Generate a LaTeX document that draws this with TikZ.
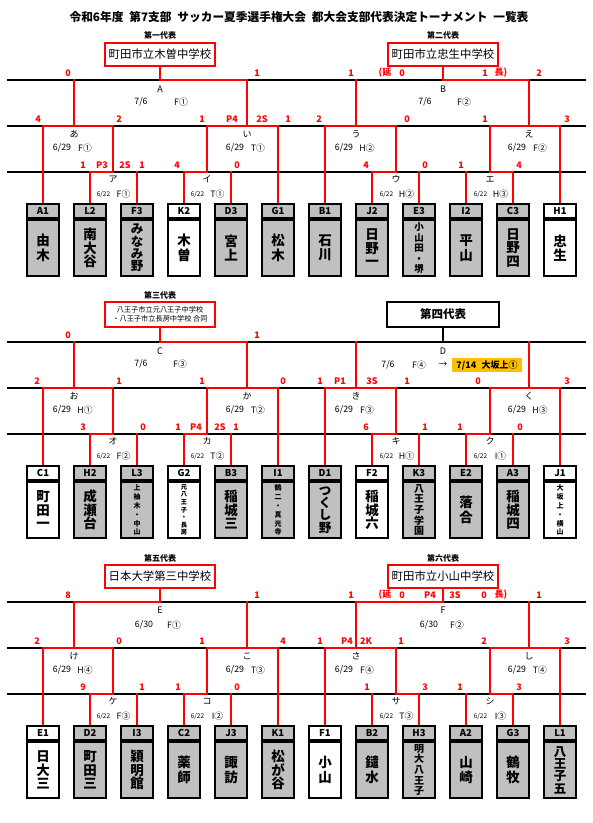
\documentclass[tikz,border=0pt]{standalone}
\usepackage{fontspec}
\setmainfont{Noto Sans CJK JP}
\usetikzlibrary{positioning}

\definecolor{winred}{HTML}{FF0000}
\definecolor{boxgray}{HTML}{C0C0C0}
\definecolor{dayorange}{HTML}{FFC000}

\tikzset{
  bline/.style={draw=black, line width=1.2pt},
  win/.style={draw=winred, line width=2.8pt, line cap=rect},
  score/.style={text=winred, inner sep=0pt, font=\fontsize{9}{10}\selectfont\bfseries},
  mlabel/.style={inner sep=0pt, font=\fontsize{9}{10}\selectfont},
  date/.style={inner sep=0pt, font=\fontsize{8.8}{10}\selectfont},
  sdate/.style={inner sep=0pt, font=\fontsize{6.5}{7}\selectfont},
  replabel/.style={inner sep=0pt, font=\fontsize{8}{9}\selectfont\bfseries},
  repbox/.style={draw=winred, line width=2.6pt, fill=white, minimum width=110pt,
    minimum height=23pt, inner sep=0pt, font=\fontsize{11.4}{12}\selectfont},
  code/.style={draw, line width=2pt, minimum width=32pt, minimum height=14pt,
    inner sep=0pt, anchor=north, font=\fontsize{9.5}{10}\selectfont\bfseries},
  tname/.style={draw, line width=2pt, minimum width=32pt, minimum height=56pt,
    inner sep=0pt, anchor=north, align=center},
}

\begin{document}
\begin{tikzpicture}[x=1pt, y=-1pt]
\useasboundingbox (0,0) rectangle (593,823);

% 表題
\node[font=\fontsize{11.7}{12}\selectfont\bfseries] (title) at (299,17)
  {令和6年度\hspace{0.5em}第7支部\hspace{0.5em}サッカー夏季選手権大会\hspace{0.5em}都大会支部代表決定トーナメント\hspace{0.5em}一覧表};

% 罫線と接続点
\foreach \s/\sh in {s1/0, s2/262, s3/522} {
  \begin{scope}[yshift=-\sh pt]
    \foreach \y in {80,126,172}
      \draw[bline] (7,\y) -- (586,\y);
    \foreach \k in {0,...,11}
      \coordinate (\s p\k) at ({43+47*\k},203);
    \coordinate (\s m2a) at (113,172);
    \coordinate (\s m2b) at (207,172);
    \coordinate (\s m2c) at (396,172);
    \coordinate (\s m2d) at (490,172);
    \coordinate (\s m1a) at (74,126);
    \coordinate (\s m1b) at (247,126);
    \coordinate (\s m1c) at (356,126);
    \coordinate (\s m1d) at (529,126);
    \coordinate (\s m0a) at (160,80);
    \coordinate (\s m0b) at (443,80);
  \end{scope}
}

% 勝ち上がり
\foreach \s/\wa/\la/\wb/\lb/\wc/\lc/\wd/\ld in
    {s1/1/2/3/4/7/8/10/9, s2/1/2/3/4/7/8/9/10, s3/1/2/3/4/8/7/10/9} {
  \draw[win] (\s p\wa) |- (\s m2a);
  \draw[win] (\s p\la) -- (\s p\la |- \s m2a);
  \draw[win] (\s p\wb) |- (\s m2b);
  \draw[win] (\s p\lb) -- (\s p\lb |- \s m2b);
  \draw[win] (\s p\wc) |- (\s m2c);
  \draw[win] (\s p\lc) -- (\s p\lc |- \s m2c);
  \draw[win] (\s p\wd) |- (\s m2d);
  \draw[win] (\s p\ld) -- (\s p\ld |- \s m2d);
  \draw[win] (\s p0) |- (\s m1a) -| (\s m2a);
  \draw[win] (\s m2b) |- (\s m1b) -| (\s p5);
  \draw[win] (\s p6) |- (\s m1c) -| (\s m2c);
  \draw[win] (\s m2d) |- (\s m1d) -| (\s p11);
  \foreach \m in {m1a,m1b,m1c,m1d}
    \draw[win] (\s\m) -- (\s\m |- \s m0a);
}

% 第一・第二代表
\begin{scope}
  \node[replabel] (s1l1) at (160,35) {第一代表};
  \node[repbox] (s1r1) at (160,54.5) {町田市立木曽中学校};
  \node[replabel] (s1l2) at (443,35) {第二代表};
  \node[repbox] (s1r2) at (443,54.5) {町田市立忠生中学校};
  \draw[win] (s1m1b) |- (s1m0a) -- (s1r1);
  \draw[win] (s1m1d) |- (s1m0b) -- (s1r2);

  \node[mlabel] (s1ka) at (160,89) {A};
  \node[date] (s1da) at (141,102) {7/6};
  \node[date] (s1fa) at (181,102) {F①};
  \node[mlabel] (s1kb) at (443,89) {B};
  \node[date] (s1db) at (425,102) {7/6};
  \node[date] (s1fb) at (464,102) {F②};

  \foreach \x/\k/\t in {74/あ/F①, 247/い/T①, 356/う/H②, 529/え/F②} {
    \node[mlabel] (s1k\x) at (\x,134) {\k};
    \node[date] (s1d\x) at (\x-12,148) {6/29};
    \node[date] (s1c\x) at (\x+11,148) {\t};
  }
  \foreach \x/\k/\t in {113/ア/F①, 207/イ/T①, 396/ウ/H②, 490/エ/H③} {
    \node[mlabel] (s1k\x) at (\x,179) {\k};
    \node[sdate] (s1d\x) at (\x-9.5,194) {6/22};
    \node[date] (s1c\x) at (\x+10.5,194) {\t};
  }

  \foreach \x/\t in {68/0, 257/1, 351/1, 385/(延, 402/0, 485/1, 501/長), 539/2}
    \node[score] (s1sa\x) at (\x,73) {\t};
  \foreach \x/\t in {38/4, 119/2, 202/1, 232/P4, 262/2S, 288/1, 319/2, 407/0, 485/1, 567/3}
    \node[score] (s1sb\x) at (\x,119) {\t};
  \foreach \x/\t in {83/1, 102/P3, 125/2S, 142/1, 177/4, 237/0, 366/4, 425/0, 461/1, 519/4}
    \node[score] (s1sc\x) at (\x,165) {\t};

  \foreach \i/\c/\n/\fs/\ls/\f in {
      0/A1/{由\\木}/13.5/14.5/boxgray, 1/L2/{南\\大\\谷}/13.5/13.5/boxgray,
      2/F3/{み\\な\\み\\野}/12.5/12.3/boxgray, 3/K2/{木\\曽}/13.5/14.5/white,
      4/D3/{宮\\上}/13.5/14.5/boxgray, 5/G1/{松\\木}/13.5/14.5/boxgray,
      6/B1/{石\\川}/13.5/14.5/boxgray, 7/J2/{日\\野\\一}/13.5/13.5/boxgray,
      8/E3/{小\\山\\田\\・\\堺}/9.5/10.5/boxgray, 9/I2/{平\\山}/13.5/14.5/boxgray,
      10/C3/{日\\野\\四}/13.5/13.5/boxgray, 11/H1/{忠\\生}/13.5/14.5/white} {
    \node[code, fill=\f] (s1t\i) at (s1p\i) {\c};
    \node[tname, fill=\f, font=\fontsize{\fs}{\ls}\selectfont\bfseries] (s1n\i) at (s1t\i.south) {\n};
  }
\end{scope}

% 第三・第四代表
\begin{scope}[yshift=-262pt]
  \node[replabel] (s2l1) at (160,33) {第三代表};
  \node[repbox, minimum height=25pt, align=center, font=\fontsize{7.2}{9}\selectfont] (s2r1) at (160,52.5)
    {八王子市立元八王子中学校\\・八王子市立長房中学校 合同};
  \node[draw, line width=2pt, fill=white, minimum width=112pt, minimum height=25pt,
    font=\fontsize{11.5}{12}\selectfont\bfseries] (s2r2) at (443,52.5) {第四代表};
  \draw[win] (s2m1b) |- (s2m0a) -- (s2r1);
  \draw[bline, line width=1.5pt] (s2r2) -- (s2m0b);

  \node[mlabel] (s2ka) at (160,89) {C};
  \node[date] (s2da) at (141,102) {7/6};
  \node[date] (s2fa) at (180,102) {F③};
  \node[mlabel] (s2kb) at (443,89) {D};
  \node[date] (s2db) at (388,103) {7/6};
  \node[date] (s2fb) at (419,103) {F④};
  \node[date] (s2ar) at (443,103) {→};
  \node[fill=dayorange, minimum width=70pt, minimum height=14pt, inner sep=0pt,
    font=\fontsize{9}{10}\selectfont\bfseries] (s2hl) at (487,103) {7/14\hspace{0.6em}大坂上①};

  \foreach \x/\k/\t in {74/お/H①, 247/か/T②, 356/き/F③, 529/く/H③} {
    \node[mlabel] (s2k\x) at (\x,134) {\k};
    \node[date] (s2d\x) at (\x-12,148) {6/29};
    \node[date] (s2c\x) at (\x+11,148) {\t};
  }
  \foreach \x/\k/\t in {113/オ/F②, 207/カ/T②, 396/キ/H①, 490/ク/I①} {
    \node[mlabel] (s2k\x) at (\x,179) {\k};
    \node[sdate] (s2d\x) at (\x-9.5,194) {6/22};
    \node[date] (s2c\x) at (\x+10.5,194) {\t};
  }

  \foreach \x/\t in {68/0, 257/1}
    \node[score] (s2sa\x) at (\x,73) {\t};
  \foreach \x/\t in {37/2, 119/1, 202/1, 283/0, 320/1, 340/P1, 372/3S, 407/1, 478/0, 567/3}
    \node[score] (s2sb\x) at (\x,119) {\t};
  \foreach \x/\t in {83/3, 143/0, 178/1, 196/P4, 220/2S, 236/1, 366/6, 425/1, 460/1, 520/0}
    \node[score] (s2sc\x) at (\x,165) {\t};

  \foreach \i/\c/\n/\fs/\ls/\f in {
      0/C1/{町\\田\\一}/13.5/13.5/white, 1/H2/{成\\瀬\\台}/13.5/13.5/boxgray,
      2/L3/{上\\柚\\木\\・\\中\\山}/7/8.9/boxgray, 3/G2/{元\\八\\王\\子\\・\\長\\房}/6.3/7.6/white,
      4/B3/{稲\\城\\三}/13.5/13.5/boxgray, 5/I1/{鶴\\二\\・\\真\\光\\寺}/7/8.9/boxgray,
      6/D1/{つ\\く\\し\\野}/12.5/12.3/boxgray, 7/F2/{稲\\城\\六}/13.5/13.5/white,
      8/K3/{八\\王\\子\\学\\園}/10/10.6/boxgray, 9/E2/{落\\合}/13.5/14.5/boxgray,
      10/A3/{稲\\城\\四}/13.5/13.5/boxgray, 11/J1/{大\\坂\\上\\・\\横\\山}/7/8.9/white} {
    \node[code, fill=\f] (s2t\i) at (s2p\i) {\c};
    \node[tname, fill=\f, font=\fontsize{\fs}{\ls}\selectfont\bfseries] (s2n\i) at (s2t\i.south) {\n};
  }
\end{scope}

% 第五・第六代表
\begin{scope}[yshift=-522pt]
  \node[replabel] (s3l1) at (160,36) {第五代表};
  \node[repbox] (s3r1) at (160,54.5) {日本大学第三中学校};
  \node[replabel] (s3l2) at (443,36) {第六代表};
  \node[repbox] (s3r2) at (443,54.5) {町田市立小山中学校};
  \draw[win] (s3m1a) |- (s3m0a) -- (s3r1);
  \draw[win] (s3m1c) |- (s3m0b) -- (s3r2);

  \node[mlabel] (s3ka) at (160,88) {E};
  \node[date] (s3da) at (144,103) {6/30};
  \node[date] (s3fa) at (174,103) {F①};
  \node[mlabel] (s3kb) at (443,88) {F};
  \node[date] (s3db) at (429,103) {6/30};
  \node[date] (s3fb) at (457,103) {F②};

  \foreach \x/\k/\t in {74/け/H④, 247/こ/T③, 356/さ/F④, 529/し/T④} {
    \node[mlabel] (s3k\x) at (\x,134) {\k};
    \node[date] (s3d\x) at (\x-12,148) {6/29};
    \node[date] (s3c\x) at (\x+11,148) {\t};
  }
  \foreach \x/\k/\t in {113/ケ/F③, 207/コ/I②, 396/サ/T③, 490/シ/I③} {
    \node[mlabel] (s3k\x) at (\x,179) {\k};
    \node[sdate] (s3d\x) at (\x-9.5,194) {6/22};
    \node[date] (s3c\x) at (\x+10.5,194) {\t};
  }

  \foreach \x/\t in {68/8, 257/1, 351/1, 385/(延, 402/0, 430/P4, 455/3S, 484/0, 501/長), 539/1}
    \node[score] (s3sa\x) at (\x,73) {\t};
  \foreach \x/\t in {37/2, 119/0, 202/1, 283/4, 320/1, 347/P4, 366/2K, 401/1, 484/2, 567/3}
    \node[score] (s3sb\x) at (\x,119) {\t};
  \foreach \x/\t in {83/9, 142/1, 178/1, 237/0, 367/1, 425/3, 460/1, 519/3}
    \node[score] (s3sc\x) at (\x,165) {\t};

  \foreach \i/\c/\n/\fs/\ls/\f in {
      0/E1/{日\\大\\三}/13.5/13.5/white, 1/D2/{町\\田\\三}/13.5/13.5/boxgray,
      2/I3/{穎\\明\\館}/13.5/13.5/boxgray, 3/C2/{薬\\師}/13.5/14.5/boxgray,
      4/J3/{諏\\訪}/13.5/14.5/boxgray, 5/K1/{松\\が\\谷}/13.5/13.5/boxgray,
      6/F1/{小\\山}/13.5/14.5/white, 7/B2/{鑓\\水}/13.5/14.5/boxgray,
      8/H3/{明\\大\\八\\王\\子}/10/10.6/boxgray, 9/A2/{山\\崎}/13.5/14.5/boxgray,
      10/G3/{鶴\\牧}/13.5/14.5/boxgray, 11/L1/{八\\王\\子\\五}/12.5/12.3/boxgray} {
    \node[code, fill=\f] (s3t\i) at (s3p\i) {\c};
    \node[tname, fill=\f, font=\fontsize{\fs}{\ls}\selectfont\bfseries] (s3n\i) at (s3t\i.south) {\n};
  }
\end{scope}
\end{tikzpicture}
\end{document}
